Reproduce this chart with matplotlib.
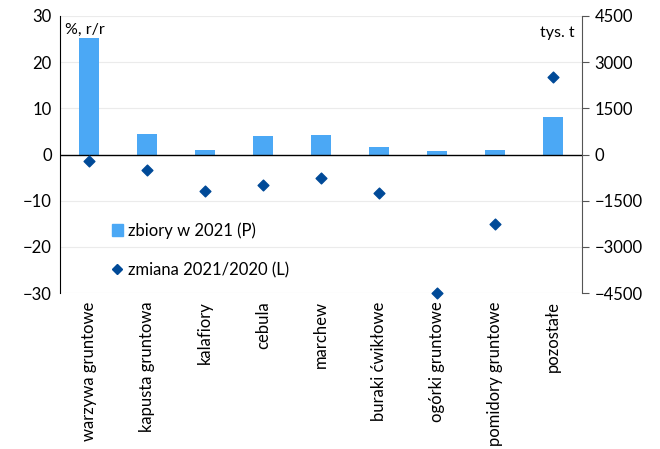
import numpy as np
import matplotlib as mpl
mpl.use('Agg')
import matplotlib.pyplot as plt

plt.rcParams['font.family'] = ['Lato', 'DejaVu Sans']

categories = ['warzywa gruntowe', 'kapusta gruntowa', 'kalafiory', 'cebula', 'marchew',
              'buraki ćwikłowe', 'ogórki gruntowe', 'pomidory gruntowe', 'pozostałe']
# zbiory w 2021, tys. t (prawa oś)
harvest_2021 = [3800, 680, 130, 615, 625, 240, 120, 150, 1220]
# zmiana 2021/2020, % r/r (lewa oś)
change_yoy = [-1.3, -3.3, -7.9, -6.6, -5.1, -8.4, -29.9, -15.0, 16.7]

bar_col = '#4BA8F5'
dot_col = '#004A98'
x = np.arange(len(categories))

fig = plt.figure(figsize=(6.6, 4.49), dpi=100)
ax = fig.add_axes([60/660, 1-293/449, 522/660, 277/449])
ax2 = ax.twinx()

ax2.bar(x, harvest_2021, width=0.33, color=bar_col, zorder=2)
ax.scatter(x, change_yoy, marker='D', s=30, color=dot_col, zorder=5, clip_on=False)

ax.set_zorder(ax2.get_zorder() + 1)
ax.patch.set_visible(False)

ax.set_ylim(-30, 30)
ax.set_yticks(range(-30, 31, 10))
ax2.set_ylim(-4500, 4500)
ax2.set_yticks(range(-4500, 4501, 1500))
ax.set_xlim(-0.5, len(categories) - 0.5)
ax.set_xticks(x)
ax.set_xticklabels(categories, rotation=90, fontsize=12)

for yv in range(-30, 31, 10):
    if yv != 0:
        ax2.axhline(yv * 150, color='#EBEBEB', lw=0.8, zorder=0)
ax.axhline(0, color='black', lw=1, zorder=3)

for a in (ax, ax2):
    for s in ('top', 'bottom'):
        a.spines[s].set_visible(False)
ax.spines['right'].set_visible(False)
ax2.spines['left'].set_visible(False)
ax.spines['left'].set_color('black')
ax2.spines['right'].set_color('#555555')

ax.tick_params(axis='y', length=0, labelsize=12, pad=6)
ax.tick_params(axis='x', length=0, pad=6)
ax2.tick_params(axis='y', length=5, color='#555555', labelsize=12, pad=4)

ax.text(0.01, 0.975, '%, r/r', transform=ax.transAxes, fontsize=11.5, va='top', ha='left')
ax.text(0.985, 0.965, 'tys. t', transform=ax.transAxes, fontsize=11.5, va='top', ha='right')

h1 = plt.Rectangle((0, 0), 1, 1, color=bar_col)
h2 = plt.Line2D([], [], marker='D', ls='', color=dot_col, markersize=5)
ax.legend([h1, h2], ['zbiory w 2021 (P)', 'zmiana 2021/2020 (L)'], loc='upper left',
          bbox_to_anchor=(0.07, 0.31), frameon=False, fontsize=12,
          handlelength=0.7, handletextpad=0.3, labelspacing=1.4)

fig.savefig('out.png', dpi=100)
